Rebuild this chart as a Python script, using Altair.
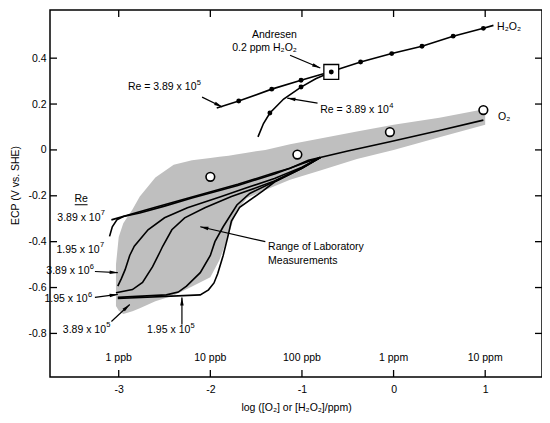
import math
import altair as alt
import pandas as pd

FONT = "Liberation Sans"
FS = 10.5
SUP_FS = 7.5
W, H = 492, 367
XMIN, XMAX = -3.75, 1.62
YMIN, YMAX = -0.99, 0.61

# ---------------- data ----------------
x_ticks = [-3, -2, -1, 0, 1]
y_ticks = [-0.8, -0.6, -0.4, -0.2, 0, 0.2, 0.4]
conc_labels = ["1 ppb", "10 ppb", "100 ppb", "1 ppm", "10 ppm"]

# shaded range of laboratory measurements
band_x = [-3.03, -3.0, -2.95, -2.85, -2.77, -2.6, -2.4, -2.2, -2.0, -1.9, -1.8, -1.72, -1.6, -1.4, -1.13, -0.8, -0.4, 0.0, 0.5, 1.0]
band_lo = [-0.68, -0.70, -0.715, -0.703, -0.69, -0.66, -0.635, -0.595, -0.555, -0.48, -0.37, -0.27, -0.21, -0.175, -0.13, -0.09, -0.04, 0.0, 0.055, 0.11]
band_hi = [-0.50, -0.38, -0.32, -0.26, -0.203, -0.12, -0.065, -0.045, -0.035, -0.03, -0.025, -0.02, -0.012, 0.0, 0.025, 0.05, 0.08, 0.11, 0.14, 0.178]

# O2 curves (Re values)
o2_389e7_x = [-3.08, -2.6, -2.2, -1.7, -1.3, -1.13, -0.93, -0.5, -0.04, 0.5, 0.98]
o2_389e7_y = [-0.305, -0.25, -0.205, -0.15, -0.10, -0.08, -0.045, -0.005, 0.036, 0.085, 0.13]
o2_195e7_x = [-3.10, -3.07, -3.02, -2.95, -2.77, -2.5, -2.2, -1.7, -1.3, -1.0, -0.8]
o2_195e7_y = [-0.377, -0.335, -0.305, -0.29, -0.275, -0.245, -0.21, -0.155, -0.105, -0.06, -0.033]
o2_389e6_x = [-3.01, -2.97, -2.93, -2.88, -2.83, -2.68, -2.50, -2.25, -1.88, -1.62, -1.3, -1.0, -0.8]
o2_389e6_y = [-0.594, -0.56, -0.522, -0.46, -0.42, -0.348, -0.296, -0.252, -0.203, -0.167, -0.125, -0.075, -0.033]
o2_195e6_x = [-3.03, -2.85, -2.74, -2.63, -2.55, -2.52, -2.42, -2.28, -2.06, -1.77, -1.5, -1.3, -1.0, -0.8]
o2_195e6_y = [-0.623, -0.609, -0.578, -0.509, -0.445, -0.42, -0.348, -0.296, -0.252, -0.203, -0.165, -0.135, -0.078, -0.033]
o2_389e5_x = [-3.01, -2.48, -2.35, -2.26, -2.11, -2.0, -1.95, -1.86, -1.71, -1.57, -1.3, -1.0, -0.8]
o2_389e5_y = [-0.643, -0.632, -0.62, -0.594, -0.535, -0.46, -0.40, -0.335, -0.24, -0.19, -0.138, -0.08, -0.033]
o2_195e5_x = [-3.01, -2.11, -2.02, -1.96, -1.92, -1.86, -1.81, -1.77, -1.68, -1.43, -1.3, -1.0, -0.8]
o2_195e5_y = [-0.648, -0.632, -0.61, -0.58, -0.54, -0.46, -0.38, -0.31, -0.25, -0.18, -0.14, -0.08, -0.033]

# H2O2 curves
h2o2_389e5_x = [-1.93, -1.69, -1.33, -1.01, -0.68, -0.36, -0.02, 0.31, 0.65, 0.98, 1.09]
h2o2_389e5_y = [0.183, 0.213, 0.265, 0.304, 0.342, 0.383, 0.42, 0.452, 0.496, 0.53, 0.543]
h2o2_389e4_x = [-1.48, -1.42, -1.35, -1.2, -1.01, -0.85, -0.68]
h2o2_389e4_y = [0.057, 0.115, 0.161, 0.222, 0.274, 0.31, 0.340]

h2o2_dot_x = [-1.69, -1.33, -1.01, -0.36, -0.02, 0.31, 0.65, 0.98, -1.35, -1.01, -0.68]
h2o2_dot_y = [0.213, 0.265, 0.304, 0.383, 0.42, 0.452, 0.496, 0.53, 0.161, 0.274, 0.340]

andresen_x = [-0.68]
andresen_y = [0.340]

o2_circle_x = [-2.0, -1.05, -0.04, 0.98]
o2_circle_y = [-0.117, -0.02, 0.078, 0.174]

# labels with a power of ten: base text, exponent, left x, y
exp_base = ["Re = 3.89 x 10", "Re = 3.89 x 10", "3.89 x 10", "1.95 x 10",
            "3.89 x 10", "1.95 x 10", "3.89 x 10", "1.95 x 10"]
exp_power = ["5", "4", "7", "7", "6", "6", "5", "5"]
exp_x = [-2.90, -0.80, -3.67, -3.68, -3.79, -3.81, -3.61, -2.69]
exp_y = [0.274, 0.174, -0.296, -0.435, -0.53, -0.652, -0.783, -0.787]

# other left-aligned texts
left_text = ["H₂O₂", "O₂", "Range of Laboratory", "Measurements"]
left_x = [1.13, 1.14, -1.37, -1.37]
left_y = [0.535, 0.143, -0.422, -0.483]

right_text = ["Andresen", "0.2 ppm H₂O₂"]
right_x = [-1.055, -1.055]
right_y = [0.500, 0.443]

re_head_text = ["Re"]
re_head_x = [-3.41]
re_head_y = [-0.214]
re_ul_x = [-3.48]
re_ul_x2 = [-3.34]
re_ul_y = [-0.239]

conc_y = [-0.909] * 5

# arrows: start -> tip
arrow_x1 = [-1.13, -2.09, -0.83, -1.40, -3.26, -3.26, -3.08, -2.31]
arrow_y1 = [0.413, 0.230, 0.204, -0.40, -0.530, -0.643, -0.748, -0.761]
arrow_x2 = [-0.80, -1.87, -1.16, -2.11, -3.01, -3.01, -2.88, -2.31]
arrow_y2 = [0.357, 0.187, 0.226, -0.335, -0.535, -0.630, -0.674, -0.643]

# ---------------- build ----------------
xs = alt.Scale(domain=[XMIN, XMAX], nice=False, zero=False)
ys = alt.Scale(domain=[YMIN, YMAX], nice=False, zero=False)
X_AX = alt.Axis(values=x_ticks, labelExpr="toString(datum.value)", ticks=False, domain=False,
                grid=False, title="log ([O₂] or [H₂O₂]/ppm)", labelPadding=7, titlePadding=8)
Y_AX = alt.Axis(values=y_ticks, labelExpr="toString(datum.value)", ticks=False, domain=False,
                grid=False, title="ECP (V vs. SHE)", labelPadding=4, titlePadding=7, titleY=175)


def X(f):
    return alt.X(f, type="quantitative", scale=xs, axis=X_AX)


def Y(f):
    return alt.Y(f, type="quantitative", scale=ys, axis=Y_AX)


sx = W / (XMAX - XMIN)
sy = H / (YMAX - YMIN)

# approximate Helvetica/Liberation Sans advance widths (per em)
CW = {" ": 0.278, ".": 0.278, "x": 0.5, "=": 0.584, "R": 0.722, "e": 0.556}


def text_width(s, size):
    return sum(CW.get(c, 0.556) for c in s) * size


band_df = pd.DataFrame({"x": band_x, "lo": band_lo, "hi": band_hi})
band = alt.Chart(band_df).mark_area(color="#bfbfbf", opacity=1).encode(
    x=X("x"), y=Y("lo"), y2="hi")

curves = {
    "o2_389e7": (o2_389e7_x, o2_389e7_y),
    "o2_195e7": (o2_195e7_x, o2_195e7_y),
    "o2_389e6": (o2_389e6_x, o2_389e6_y),
    "o2_195e6": (o2_195e6_x, o2_195e6_y),
    "o2_389e5": (o2_389e5_x, o2_389e5_y),
    "o2_195e5": (o2_195e5_x, o2_195e5_y),
    "h2o2_389e5": (h2o2_389e5_x, h2o2_389e5_y),
    "h2o2_389e4": (h2o2_389e4_x, h2o2_389e4_y),
}
rows = []
for name, (cx, cy) in curves.items():
    for i, (a, b) in enumerate(zip(cx, cy)):
        rows.append({"series": name, "i": i, "x": a, "y": b})
curve_df = pd.DataFrame(rows)
lines = alt.Chart(curve_df).mark_line(color="black", strokeWidth=1.6).encode(
    x=X("x"), y=Y("y"), detail="series:N", order="i:Q")

square = alt.Chart(pd.DataFrame({"x": andresen_x, "y": andresen_y})).mark_point(
    shape="square", size=220, filled=True, fill="white", stroke="black", strokeWidth=1.3, opacity=1
).encode(x=X("x"), y=Y("y"))

dots = alt.Chart(pd.DataFrame({"x": h2o2_dot_x, "y": h2o2_dot_y})).mark_circle(
    size=24, color="black", opacity=1).encode(x=X("x"), y=Y("y"))

circles = alt.Chart(pd.DataFrame({"x": o2_circle_x, "y": o2_circle_y})).mark_point(
    shape="circle", size=75, filled=True, fill="white", stroke="black", strokeWidth=1.6, opacity=1
).encode(x=X("x"), y=Y("y"))

# arrows
hx, hy, ang = [], [], []
for x1, y1, x2, y2 in zip(arrow_x1, arrow_y1, arrow_x2, arrow_y2):
    dxp = (x2 - x1) * sx
    dyp = -(y2 - y1) * sy
    L = math.hypot(dxp, dyp)
    ux, uy = dxp / L, dyp / L
    hx.append(x2 - ux * 4.0 / sx)
    hy.append(y2 + uy * 4.0 / sy)
    ang.append(math.degrees(math.atan2(dxp, -dyp)) % 360)
arrow_df = pd.DataFrame({"x": arrow_x1, "y": arrow_y1, "x2": arrow_x2, "y2": arrow_y2,
                         "hx": hx, "hy": hy, "ang": ang})
arrow_lines = alt.Chart(arrow_df).mark_rule(color="black", strokeWidth=1.2).encode(
    x=X("x"), y=Y("y"), x2="x2", y2="y2")
arrow_heads = alt.Chart(arrow_df).mark_point(
    shape="M0,-1L0.42,1L-0.42,1Z", size=70, filled=True, color="black", opacity=1
).encode(x=X("hx"), y=Y("hy"), angle=alt.Angle("ang:Q", scale=None))

exp_df = pd.DataFrame({
    "x": exp_x, "y": exp_y, "t": exp_base, "p": exp_power,
    "xp": [x0 + (text_width(b, FS) + 0.3) / sx for x0, b in zip(exp_x, exp_base)],
})
txt_exp_base = alt.Chart(exp_df).mark_text(
    align="left", baseline="middle", font=FONT, fontSize=FS, color="black").encode(
    x=X("x"), y=Y("y"), text="t:N")
txt_exp_pow = alt.Chart(exp_df).mark_text(
    align="left", baseline="middle", font=FONT, fontSize=SUP_FS, color="black", dy=-4.5).encode(
    x=X("xp"), y=Y("y"), text="p:N")

txt_left = alt.Chart(pd.DataFrame({"x": left_x, "y": left_y, "t": left_text})).mark_text(
    align="left", baseline="middle", font=FONT, fontSize=FS, color="black").encode(
    x=X("x"), y=Y("y"), text="t:N")
txt_right = alt.Chart(pd.DataFrame({"x": right_x, "y": right_y, "t": right_text})).mark_text(
    align="right", baseline="middle", font=FONT, fontSize=FS, color="black").encode(
    x=X("x"), y=Y("y"), text="t:N")
txt_re = alt.Chart(pd.DataFrame({"x": re_head_x, "y": re_head_y, "t": re_head_text})).mark_text(
    align="center", baseline="middle", font=FONT, fontSize=FS, color="black").encode(
    x=X("x"), y=Y("y"), text="t:N")
re_ul = alt.Chart(pd.DataFrame({"x": re_ul_x, "x2": re_ul_x2, "y": re_ul_y})).mark_rule(
    color="black", strokeWidth=1).encode(x=X("x"), x2="x2", y=Y("y"))
txt_conc = alt.Chart(pd.DataFrame({"x": x_ticks, "y": conc_y, "t": conc_labels})).mark_text(
    align="center", baseline="middle", font=FONT, fontSize=FS, color="black").encode(
    x=X("x"), y=Y("y"), text="t:N")

# inward ticks on all four sides
xt_df = pd.DataFrame({"v": x_ticks})
yt_df = pd.DataFrame({"v": y_ticks})
tick_b = alt.Chart(xt_df).mark_rule(color="black", strokeWidth=1.3).encode(
    x=X("v"), y=alt.value(H), y2=alt.value(H - 7))
tick_t = alt.Chart(xt_df).mark_rule(color="black", strokeWidth=1.3).encode(
    x=X("v"), y=alt.value(0), y2=alt.value(7))
tick_l = alt.Chart(yt_df).mark_rule(color="black", strokeWidth=1.3).encode(
    y=Y("v"), x=alt.value(0), x2=alt.value(7))
tick_r = alt.Chart(yt_df).mark_rule(color="black", strokeWidth=1.3).encode(
    y=Y("v"), x=alt.value(W), x2=alt.value(W - 7))

chart = alt.layer(
    band, lines, arrow_lines, arrow_heads, square, dots, circles,
    txt_exp_base, txt_exp_pow, txt_left, txt_right, txt_re, re_ul, txt_conc,
    tick_b, tick_t, tick_l, tick_r
).properties(
    width=W, height=H,
    autosize=alt.AutoSizeParams(type="none"),
    padding={"left": 42, "top": 2, "right": 0, "bottom": 38},
    background="white",
).configure_view(
    stroke="black", strokeWidth=1.5
).configure_axis(
    labelFont=FONT, titleFont=FONT, labelFontSize=FS, titleFontSize=FS,
    labelColor="black", titleColor="black", titleFontWeight="normal"
)

chart.save("out.html", embed_options={"renderer": "svg", "actions": False})
